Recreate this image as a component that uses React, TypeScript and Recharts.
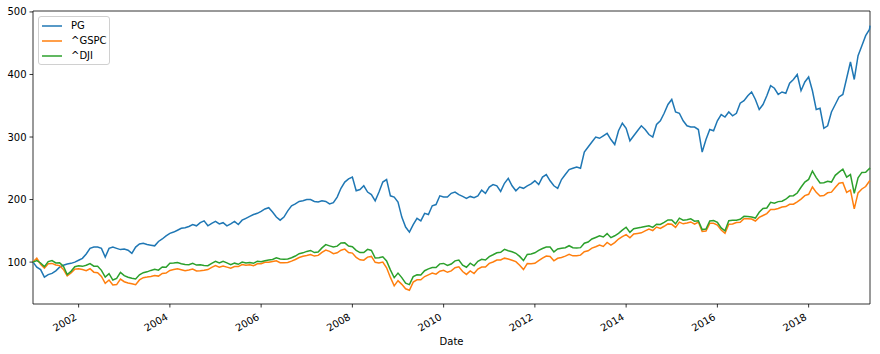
import { LineChart, Line, XAxis, YAxis, ReferenceArea } from "recharts";

// normalised to 100 on 2001-01-02, then month-end closes Jan 2001 .. Apr 2019, last value 2019-05-06
const firstDate = 2001.0;
const lastDate = 2019.345;

const seriesNames = ["PG", "^GSPC", "^DJI"];
const seriesKeys = ["pg", "gspc", "dji"];
const seriesColors = ["#1f77b4", "#ff7f0e", "#2ca02c"];

const yearTicks = [2002, 2004, 2006, 2008, 2010, 2012, 2014, 2016, 2018];
const valueTicks = [100, 200, 300, 400, 500];

const pg = [
  100,
  92, 88, 76, 80, 82, 86, 92, 95, 97, 98, 100, 103,
  106, 113, 122, 124, 124, 122, 108, 122, 124, 122, 120, 121,
  119, 114, 124, 129, 130, 128, 127, 126, 133, 137, 142, 146,
  148, 151, 154, 155, 157, 160, 158, 163, 166, 158, 162, 165,
  161, 163, 158, 161, 165, 160, 167, 170, 173, 176, 178, 181,
  185, 187, 180, 172, 167, 172, 182, 190, 193, 197, 198, 200,
  200, 197, 196, 198, 197, 193, 195, 204, 218, 228, 233, 236,
  214, 216, 222, 212, 208, 198, 212, 228, 232, 206, 204, 196,
  172, 156, 148, 160, 170, 166, 178, 176, 190, 192, 206, 204,
  204, 210, 212, 208, 205, 202, 205, 203, 206, 215, 210, 220,
  224, 222, 213, 226, 234, 222, 214, 220, 218, 222, 225, 230,
  224, 236, 240, 230, 222, 218, 232, 240, 248, 250, 252, 250,
  276, 284, 292, 300, 298, 302, 306, 296, 288, 310, 322, 314,
  294, 302, 310, 318, 312, 304, 300, 320, 326, 338, 352, 360,
  340, 338, 326, 318, 316, 316, 312, 276, 296, 312, 310, 326,
  336, 332, 340, 334, 338, 354, 358, 366, 372, 360, 344, 352,
  366, 382, 378, 368, 372, 370, 386, 392, 400, 374, 388, 396,
  374, 344, 346, 314, 318, 340, 352, 364, 368, 394, 420, 392,
  430, 446, 462, 472,
  478,
];

const gspc = [
  100,
  106.4, 96.6, 90.4, 97.3, 97.9, 95.4, 94.4, 88.4, 78.0, 82.6, 88.8, 89.5,
  88.1, 86.3, 89.4, 83.9, 83.1, 77.1, 66.0, 71.4, 63.5, 64.0, 72.9, 68.6,
  66.7, 65.5, 64.0, 71.5, 75.1, 76.0, 77.1, 78.5, 77.6, 81.9, 82.4, 86.7,
  88.1, 89.2, 87.7, 86.3, 87.4, 88.9, 85.9, 86.0, 86.9, 88.1, 91.5, 94.4,
  92.0, 93.8, 92.0, 90.2, 92.9, 92.8, 96.2, 95.1, 95.8, 94.1, 97.3, 97.3,
  99.7, 99.8, 100.9, 102.2, 99.0, 99.0, 99.5, 101.6, 104.1, 107.4, 109.2, 110.5,
  112.1, 109.6, 110.7, 115.5, 119.3, 117.1, 113.4, 114.9, 119.0, 120.7, 115.4, 114.4,
  107.5, 103.7, 103.1, 108.0, 109.1, 99.7, 98.7, 100.0, 90.9, 75.5, 62.0, 70.4,
  64.4, 57.3, 55.0, 68.0, 71.6, 71.6, 76.9, 79.6, 82.4, 80.7, 85.4, 86.9,
  83.7, 86.0, 91.1, 92.5, 84.9, 80.3, 85.9, 81.7, 88.9, 92.2, 92.0, 98.0,
  100.2, 103.4, 103.3, 106.3, 104.8, 102.9, 100.7, 95.0, 88.1, 97.6, 97.2, 98.0,
  102.2, 106.4, 109.7, 108.9, 102.1, 106.1, 107.5, 109.6, 112.3, 110.0, 110.3, 111.1,
  116.7, 118.1, 122.3, 124.5, 127.1, 125.1, 131.4, 127.3, 131.1, 136.9, 140.7, 144.0,
  138.9, 144.9, 145.9, 146.8, 149.9, 152.7, 150.5, 156.1, 153.7, 157.3, 161.1, 160.4,
  155.5, 164.0, 161.2, 162.6, 164.2, 160.8, 164.0, 149.0, 149.6, 162.0, 162.1, 159.3,
  151.2, 146.0, 160.5, 160.9, 163.4, 163.6, 169.4, 169.2, 168.9, 165.7, 171.4, 174.5,
  177.6, 184.2, 184.1, 185.8, 188.0, 188.8, 192.5, 192.6, 196.3, 200.7, 206.3, 208.4,
  220.1, 211.5, 205.8, 206.3, 210.8, 211.8, 219.4, 226.1, 227.1, 211.3, 215.1, 185.0,
  210.7, 216.9, 220.8, 229.6,
  228.5,
];

const dji = [
  100,
  102.3, 98.6, 92.8, 100.8, 102.5, 98.6, 98.8, 93.5, 80.0, 85.2, 92.5, 94.1,
  93.2, 94.9, 97.7, 93.4, 93.2, 86.8, 76.0, 81.4, 71.3, 74.0, 83.6, 78.4,
  75.7, 74.1, 73.0, 79.7, 83.1, 84.4, 86.7, 88.4, 87.1, 92.1, 91.9, 98.2,
  98.5, 99.4, 97.3, 96.1, 95.7, 98.0, 95.2, 95.6, 94.7, 94.2, 98.0, 101.3,
  98.5, 101.1, 98.7, 95.7, 98.3, 96.5, 100.0, 98.5, 99.3, 98.1, 101.5, 100.7,
  102.1, 103.3, 104.3, 106.8, 104.9, 104.7, 105.1, 106.9, 109.7, 113.5, 114.8, 117.1,
  118.6, 115.2, 116.0, 122.7, 128.0, 126.0, 124.1, 125.5, 130.5, 130.8, 125.6, 124.6,
  118.8, 115.2, 115.2, 120.4, 118.7, 106.6, 106.9, 108.4, 101.9, 87.6, 75.0, 82.4,
  75.2, 66.3, 64.0, 76.7, 79.8, 79.3, 86.2, 89.2, 91.2, 91.2, 97.2, 97.9,
  94.6, 97.0, 102.0, 103.4, 95.2, 91.8, 98.3, 94.1, 101.3, 104.4, 103.4, 108.8,
  111.7, 114.8, 115.7, 120.3, 118.1, 116.6, 114.1, 109.1, 102.5, 112.3, 113.1, 114.8,
  118.7, 121.7, 124.1, 124.1, 116.4, 121.0, 122.2, 123.0, 126.2, 123.0, 122.4, 123.1,
  130.2, 132.0, 136.9, 139.4, 142.0, 140.1, 145.6, 139.1, 142.1, 146.0, 151.1, 155.7,
  147.5, 153.3, 154.6, 155.7, 157.0, 158.1, 155.6, 160.6, 160.1, 163.4, 167.5, 167.4,
  161.2, 170.3, 167.0, 167.6, 169.2, 165.5, 166.2, 152.0, 153.0, 165.9, 166.4, 163.7,
  154.7, 150.0, 166.1, 167.0, 167.1, 168.4, 173.1, 172.8, 172.0, 170.4, 179.6, 185.6,
  186.6, 195.5, 194.1, 196.7, 197.3, 200.5, 205.6, 206.2, 210.5, 219.6, 228.0, 232.2,
  245.6, 235.1, 226.4, 227.0, 229.3, 228.0, 238.7, 243.9, 248.5, 235.9, 239.9, 210.0,
  234.8, 243.4, 243.6, 249.8,
  248.3,
];

const data = pg.map((v, i) => ({
  date: i === pg.length - 1 ? lastDate : firstDate + i / 12,
  pg: v,
  gspc: gspc[i],
  dji: dji[i],
}));

const font = "DejaVu Sans";

const DateTick = (props: any) => {
  const { x, y, payload } = props;
  const tx = x - 1;
  const ty = y + 11.5;
  return (
    <text
      x={tx}
      y={ty}
      textAnchor="end"
      transform={`rotate(-30 ${tx} ${ty})`}
      fontSize={10}
      fontFamily={font}
      fill="#000"
    >
      {payload.value}
    </text>
  );
};

const App = () => {
  return (
    <div style={{ position: "absolute", left: 0, top: 0, width: 880, height: 354, background: "#fff" }}>
      <LineChart
        width={880}
        height={354}
        data={data}
        margin={{ top: 11, right: 10, bottom: 0, left: 0 }}
      >
        <XAxis
          dataKey="date"
          type="number"
          domain={["dataMin", "dataMax"]}
          ticks={yearTicks}
          interval={0}
          height={50}
          axisLine={false}
          tickLine={{ stroke: "#000", strokeWidth: 0.8 }}
          tickSize={3.5}
          tickMargin={0}
          tick={<DateTick />}
          label={{ value: "Date", position: "insideBottom", offset: 9, fontSize: 10, fontFamily: font, fill: "#000" }}
        />
        <YAxis
          type="number"
          domain={[33, 501.5]}
          allowDataOverflow
          ticks={valueTicks}
          interval={0}
          width={33}
          axisLine={false}
          tickLine={{ stroke: "#000", strokeWidth: 0.8 }}
          tickSize={3.5}
          tickMargin={3}
          tick={{ fontSize: 10, fontFamily: font, fill: "#000" }}
        />
        {seriesKeys.map((k, i) => (
          <Line
            key={k}
            dataKey={k}
            name={seriesNames[i]}
            stroke={seriesColors[i]}
            strokeWidth={1.5}
            dot={false}
            activeDot={false}
            type="linear"
            isAnimationActive={false}
          />
        ))}
        <ReferenceArea
          x1={firstDate}
          x2={lastDate}
          y1={33}
          y2={501.5}
          fill="none"
          stroke="#000"
          strokeWidth={0.8}
          ifOverflow="visible"
        />
      </LineChart>
      <div
        style={{
          position: "absolute",
          left: 38,
          top: 16,
          width: 70,
          height: 47,
          border: "1px solid #d0d0d0",
          borderRadius: 3,
          background: "rgba(255,255,255,0.8)",
          fontFamily: font,
          fontSize: 10,
          color: "#000",
        }}
      >
        {seriesNames.map((n, i) => (
          <div key={n} style={{ position: "absolute", left: 2, top: 3 + i * 15, height: 12, display: "flex", alignItems: "center" }}>
            <svg width={22} height={12}>
              <line x1={1} y1={6} x2={21} y2={6} stroke={seriesColors[i]} strokeWidth={1.5} />
            </svg>
            <span style={{ marginLeft: 8, lineHeight: "12px" }}>{n}</span>
          </div>
        ))}
      </div>
    </div>
  );
};

export default App;
